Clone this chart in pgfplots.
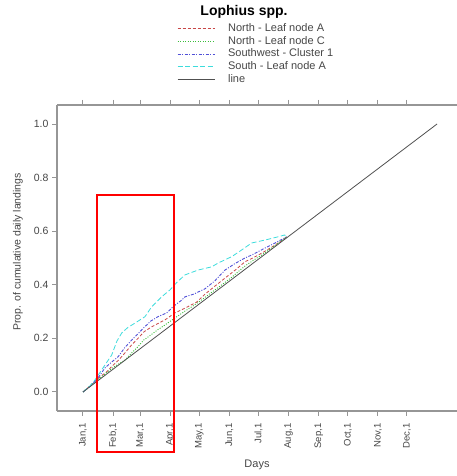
\documentclass[border=0pt]{standalone}
\usepackage{pgfplots}
\pgfplotsset{compat=1.18}
\usepackage{fontspec}
\setmainfont{Liberation Sans}
\definecolor{cRed}{RGB}{200,70,70}
\definecolor{cGreen}{RGB}{60,190,60}
\definecolor{cBlue}{RGB}{80,80,215}
\definecolor{cCyan}{RGB}{60,220,220}
\definecolor{cLine}{RGB}{80,80,80}
\definecolor{axgray}{RGB}{150,150,150}
\definecolor{txtgray}{RGB}{70,70,70}
\begin{document}
\begin{tikzpicture}
\useasboundingbox (0,0) rectangle (457pt,476pt);
\begin{axis}[
  at={(57pt,65pt)}, anchor=south west,
  width=400pt, height=306pt, scale only axis,
  xmin=-25.8, xmax=386.6, ymin=-0.071, ymax=1.071,
  axis x line*=box, axis y line*=left,
  axis line style={axgray, line width=1.3pt},
  tick align=outside,
  major tick length=5pt,
  tick style={axgray, line width=1pt},
  xtick={1,32,60,91,121,152,182,213,244,274,305,335},
  xticklabels={{Jan,1},{Feb,1},{Mar,1},{Apr,1},{May,1},{Jun,1},{Jul,1},{Aug,1},{Sep,1},{Oct,1},{Nov,1},{Dec,1}},
  xticklabel shift=4pt,
  xticklabel style={rotate=90, anchor=east, font=\fontsize{9.5}{11}\selectfont, text=txtgray},
  ytick={0,0.2,0.4,0.6,0.8,1.0},
  yticklabel style={font=\fontsize{10.5}{12}\selectfont, text=txtgray, /pgf/number format/.cd, fixed, fixed zerofill, precision=1, assume math mode=true},
  ylabel={Prop. of cumulative daily landings},
  ylabel style={at={(axis description cs:-0.0975,0.52)}, anchor=center, rotate=0, font=\fontsize{10.5}{12}\selectfont, text=txtgray},
  xlabel={Days},
  xlabel style={at={(axis description cs:0.5,-0.176)}, anchor=center, font=\fontsize{11}{13}\selectfont, text=txtgray},
  clip=false,
  legend cell align=left,
  legend image code/.code={\draw[#1] (0pt,0pt) -- (37pt,0pt);},
  legend style={at={(axis description cs:0.3,1.271)}, anchor=north west, draw=none, fill=none,
    inner sep=0pt, row sep=0pt,
    /tikz/every odd column/.append style={column sep=12pt},
    nodes={inner sep=1pt, text height=8.2pt, text depth=2.5pt, text=txtgray},
    font=\fontsize{11}{13}\selectfont},
]
\addplot[cRed, line width=0.8pt, dash pattern=on 3pt off 2pt] coordinates {
(1,0) (10,0.028) (18,0.055) (25.4,0.075) (30.6,0.095) (38,0.12) (44.3,0.146) (51,0.175) (57.7,0.2) (64,0.225) (71.8,0.243) (78,0.255) (85.5,0.269) (95.8,0.295) (106.2,0.313) (118,0.335) (126.8,0.365) (137,0.395) (147.4,0.425) (158,0.455) (168,0.486) (176,0.50) (185.2,0.518) (199,0.548) (211,0.579)};
\addlegendentry{North - Leaf node A}
\addplot[cGreen, line width=0.9pt, dash pattern=on 1pt off 1.5pt] coordinates {
(1,0) (10,0.027) (18,0.05) (25.4,0.072) (30.6,0.088) (38,0.105) (44.3,0.119) (51,0.145) (57.7,0.169) (64,0.195) (71.8,0.215) (78,0.232) (85.5,0.250) (95.8,0.276) (106.2,0.302) (113.1,0.318) (122,0.34) (133.7,0.372) (145,0.402) (154.3,0.428) (162,0.452) (168,0.470) (176,0.49) (185.2,0.511) (199,0.546) (211,0.579)};
\addlegendentry{North - Leaf node C}
\addplot[cBlue, line width=0.9pt, dash pattern=on 3pt off 1.5pt on 1pt off 1.5pt] coordinates {
(1,0) (8,0.02) (13.4,0.04) (18,0.06) (23.7,0.090) (30,0.11) (37.1,0.131) (44,0.165) (51.2,0.194) (57,0.215) (64.9,0.244) (71,0.265) (78.3,0.281) (87.3,0.295) (93.8,0.318) (102.8,0.343) (106.2,0.355) (115,0.365) (126.8,0.385) (137,0.415) (147.4,0.455) (158,0.48) (168,0.500) (174.9,0.511) (188.6,0.537) (199,0.556) (211,0.579)};
\addlegendentry{Southwest - Cluster 1}
\addplot[cCyan, line width=0.8pt, dash pattern=on 5pt off 2.5pt] coordinates {
(1,0) (8,0.022) (13.4,0.045) (18,0.07) (23.7,0.101) (30.6,0.138) (36,0.19) (40.9,0.220) (47,0.24) (54.6,0.257) (64.9,0.281) (71.8,0.318) (82.1,0.355) (90.7,0.381) (98,0.41) (106.2,0.437) (119.6,0.455) (133.7,0.467) (140.2,0.481) (154.3,0.505) (164.6,0.530) (174.9,0.556) (188.6,0.567) (202,0.579) (209,0.586) (211,0.579)};
\addlegendentry{South - Leaf node A}
\addplot[cLine, line width=0.8pt] coordinates {(1,0) (366,1)};
\addlegendentry{line}
\node[font=\bfseries\fontsize{14}{16}\selectfont, text=black] at (axis description cs:0.4675,1.304) {Lophius spp.};
\draw[red, line width=2.2pt] (axis description cs:0.1,0.706) rectangle (axis description cs:0.2925,-0.134);
\end{axis}
\end{tikzpicture}
\end{document}
